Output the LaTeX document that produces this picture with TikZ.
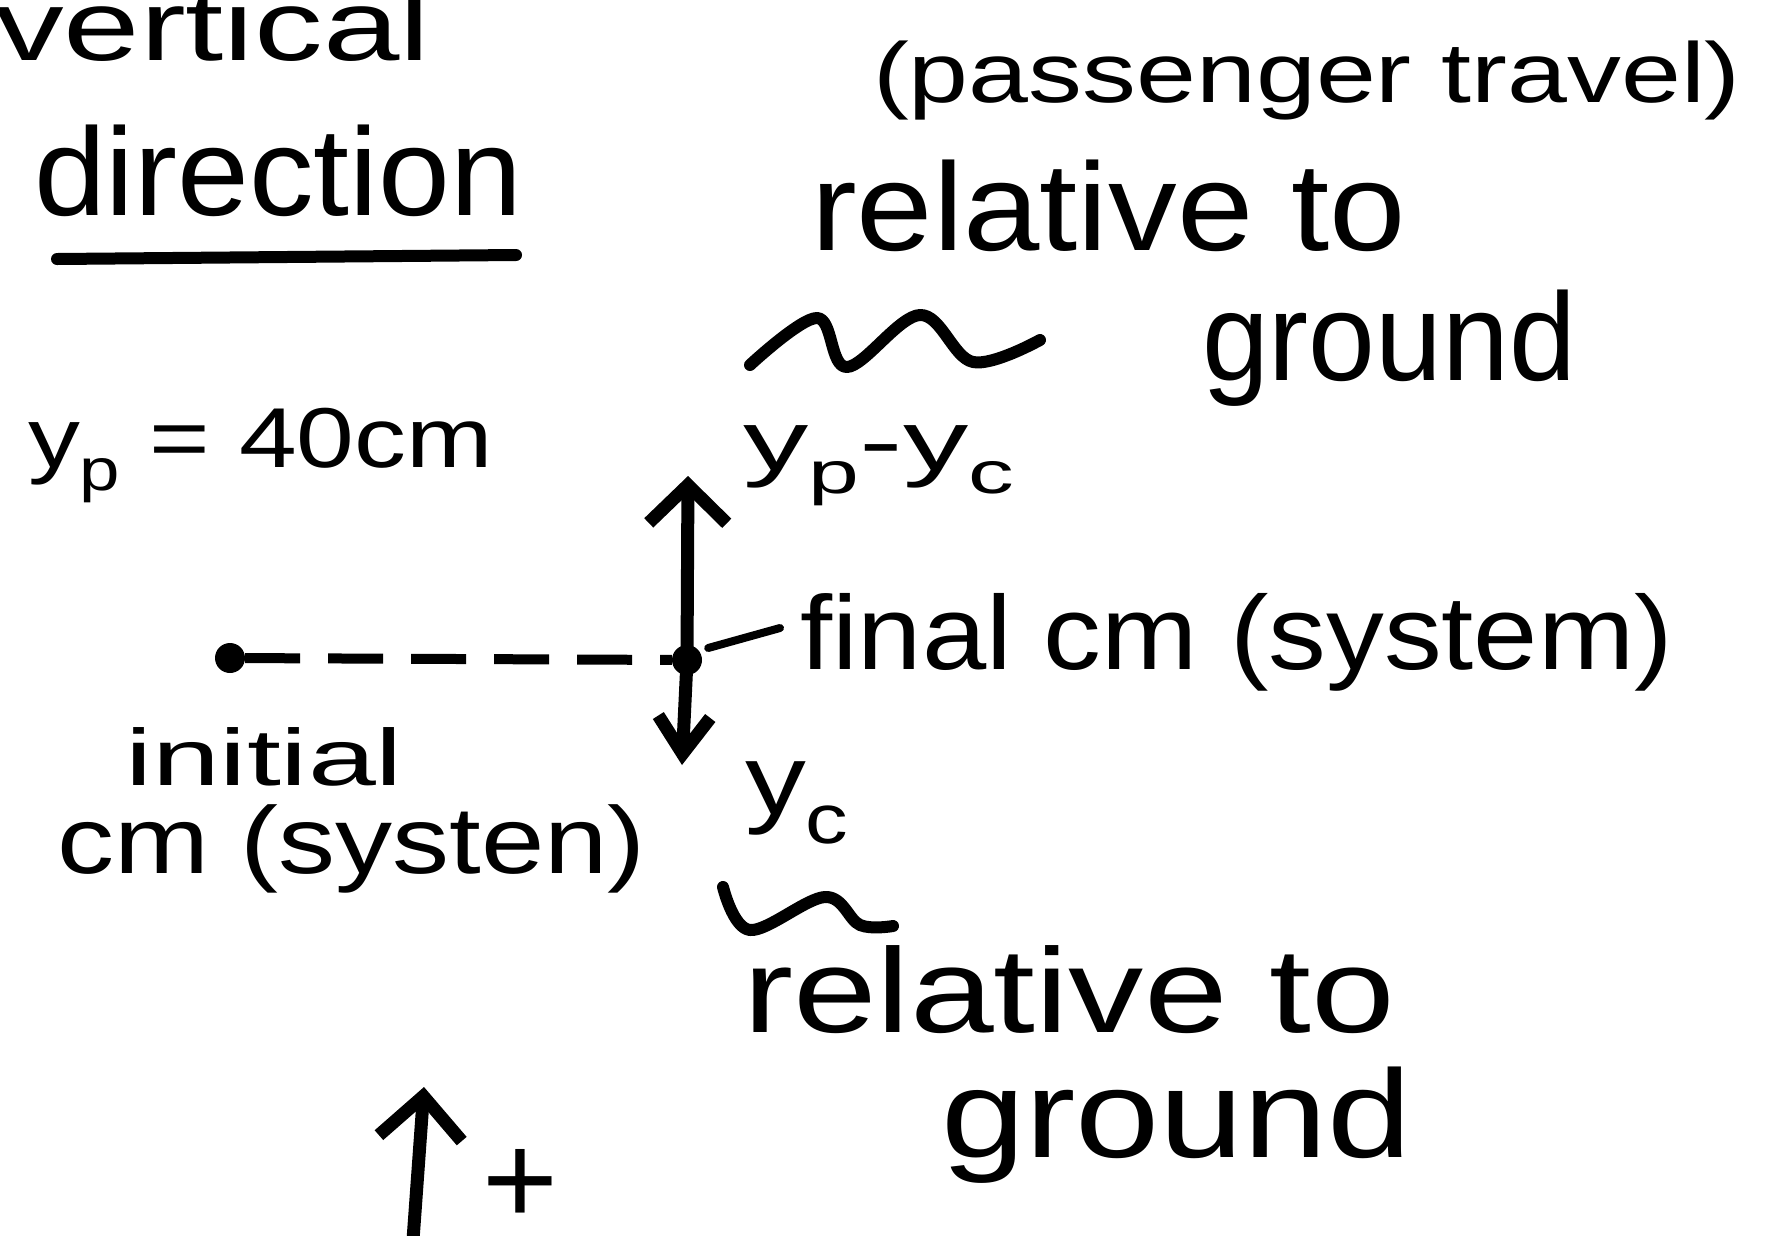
\documentclass[tikz,border=0pt]{standalone}
\usepackage{fontspec}
\setmainfont{Liberation Sans}
\usetikzlibrary{arrows.meta}
\newcommand{\hw}[3]{\resizebox{#1pt}{\height}{\fontsize{#2}{#2}\selectfont #3}}
\begin{document}
\begin{tikzpicture}[x=1pt,y=-1pt,
  lbl/.style={anchor=base west,inner sep=0pt,outer sep=0pt},
  ink/.style={line width=13pt,line cap=round,line join=round},
  dotnode/.style={circle,fill=black,inner sep=0pt,minimum size=30pt},
  barbA/.style={-{Straight Barb[length=38pt,width=78pt]}},
  barbB/.style={-{Straight Barb[length=37pt,width=52pt]}},
  barbC/.style={-{Straight Barb[length=42pt,width=83pt]}}]
\useasboundingbox[fill=white] (0,0) rectangle (1778,1235);
\begin{scope}
\clip (0,0) rectangle (1778,1235);
% texts
\node[lbl] (vert) at (-5,60) {\hw{435}{100}{vertical}};
\node[lbl] (dir) at (34,215) {\hw{488}{125}{direction}};
\node[lbl] (pass) at (873,102) {\hw{868}{85}{(passenger travel)}};
\node[lbl] (rel1) at (811,250) {\hw{595}{125}{relative to}};
\node[lbl] (gr1) at (1202,380) {\hw{374}{125}{ground}};
\node[lbl] (yp) at (28,467) {\hw{465}{85}{y\textsubscript{p} = 40cm}};
\node[lbl] (ypyc) at (743,470) {\hw{272}{85}{y\textsubscript{p}-y\textsubscript{c}}};
\node[lbl] (final) at (800,669) {\hw{873}{105}{final cm (system)}};
\node[lbl] (init) at (125,785) {\hw{278}{80}{initial}};
\node[lbl] (cmsys) at (57,873) {\hw{589}{95}{cm (systen)}};
\node[lbl] (yc) at (745,814) {\hw{104}{100}{y\textsubscript{c}}};
\node[lbl] (rel2) at (743,1032) {\hw{652}{120}{relative to}};
\node[lbl] (gr2) at (941,1157) {\hw{471}{125}{ground}};
\node[inner sep=0pt] (plus) at (520,1187) {\fontsize{130}{130}\selectfont +};
% underline and tildes
\draw[ink,line width=12pt] (57,259) -- (516,255);
\draw[ink,line width=12pt] plot[smooth,tension=0.6] coordinates {(750,365) (817,318) (847,367) (920,315) (973,362) (1040,340)};
\draw[ink,line width=12pt] plot[smooth,tension=0.6] coordinates {(723,887) (750,930) (825,897) (860,925) (893,926)};
% dots and arrows
\node[dotnode] (ini) at (230,658) {};
\node[dotnode] (fin) at (687,660) {};
\coordinate (uptip) at (688,476);
\coordinate (dntip) at (682,765);
\draw[ink,barbA] (fin.center) -- (uptip);
\draw[ink,barbB] (fin.center) -- (dntip);
\draw[line width=10pt,dash pattern=on 55pt off 28pt] (ini) -- (fin);
\draw[ink,line width=8pt] ([shift={(6,-12)}]fin.east) -- ([shift={(-20,-41)}]final.base west);
\coordinate (pbot) at (413,1240);
\coordinate (ptop) at (424,1087);
\draw[ink,barbC] (pbot) -- (ptop);
\end{scope}
\end{tikzpicture}
\end{document}
